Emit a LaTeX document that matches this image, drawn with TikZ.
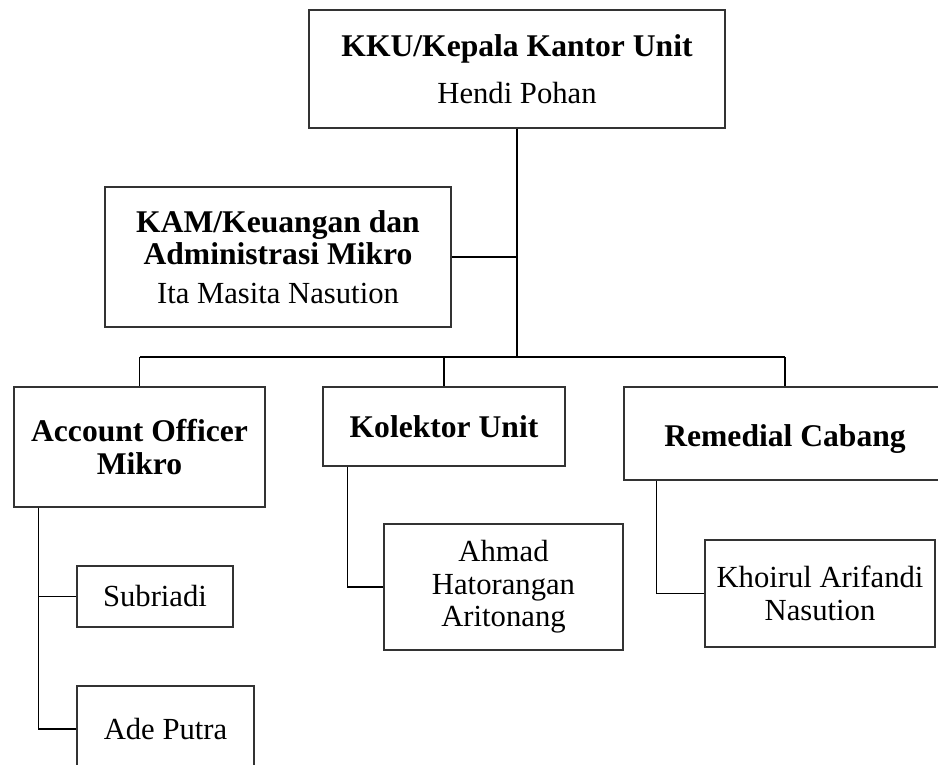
\documentclass[tikz,border=0pt]{standalone}
\usepackage{fontspec}
\setmainfont{Liberation Serif}
\usetikzlibrary{calc}
\newcommand{\bt}[1]{{\fontsize{23.7}{24}\selectfont\bfseries #1}}
\begin{document}
\begin{tikzpicture}[x=0.75pt,y=-0.75pt,
  obox/.style={draw=black!80, line width=0.8pt, inner sep=0pt, align=center,
    font=\fontsize{23}{24.3}\selectfont},
  conn/.style={draw=black, line width=0.8pt},
  mainconn/.style={draw=black, line width=1.5pt}]
\useasboundingbox (0,0) rectangle (938,764);
\clip (0,0) rectangle (938,764);
\node[obox, minimum width={416*0.75pt}, minimum height={118*0.75pt}] (kku) at (517,69)
  {\bt{KKU/Kepala Kantor Unit}\\[11pt]Hendi Pohan};
\node[obox, minimum width={346*0.75pt}, minimum height={140*0.75pt}] (kam) at (278,257)
  {\bt{KAM/Keuangan dan}\\\bt{Administrasi Mikro}\\[4.5pt]Ita Masita Nasution};
\node[obox, minimum width={251*0.75pt}, minimum height={120*0.75pt}] (ao) at (139.5,447)
  {\bt{Account Officer}\\\bt{Mikro}};
\node[obox, minimum width={242*0.75pt}, minimum height={79*0.75pt}] (kol) at (444,426.5)
  {\bt{Kolektor Unit}};
\node[obox, minimum width={322*0.75pt}, minimum height={93*0.75pt},
  text height=18.8pt, text depth=0pt] (rem) at (785,433.5)
  {\bt{Remedial Cabang}};
\node[obox, minimum width={156*0.75pt}, minimum height={61*0.75pt}] (sub) at (155,596.5)
  {Subriadi};
\node[obox, minimum width={177*0.75pt}, minimum height={86*0.75pt}] (ade) at (165.5,729)
  {Ade Putra};
\node[obox, minimum width={239*0.75pt}, minimum height={126*0.75pt}] (ahm) at (503.5,587)
  {Ahmad\\Hatorangan\\Aritonang};
\node[obox, minimum width={230*0.75pt}, minimum height={107*0.75pt}] (kho) at (820,593.5)
  {Khoirul Arifandi\\Nasution};
\coordinate (j) at (517,357);
\coordinate (aoL) at ($(ao.south west)+(25,0)$);
\coordinate (kolL) at ($(kol.south west)+(25,0)$);
\coordinate (remL) at ($(rem.south west)+(33,0)$);
\draw[mainconn] (kku.south) -- (j);
\draw[conn] (kam.east) -- (kam.east -| j);
\draw[conn] (ao.north |- j) -- (rem.north |- j);
\draw[conn] (ao.north |- j) -- (ao.north);
\draw[conn] (kol.north |- j) -- (kol.north);
\draw[conn] (rem.north |- j) -- (rem.north);
\draw[conn] (aoL) |- (sub.west);
\draw[conn] (aoL) |- (ade.west);
\draw[conn] (kolL) |- (ahm.west);
\draw[conn] (remL) |- (kho.west);
\end{tikzpicture}
\end{document}
